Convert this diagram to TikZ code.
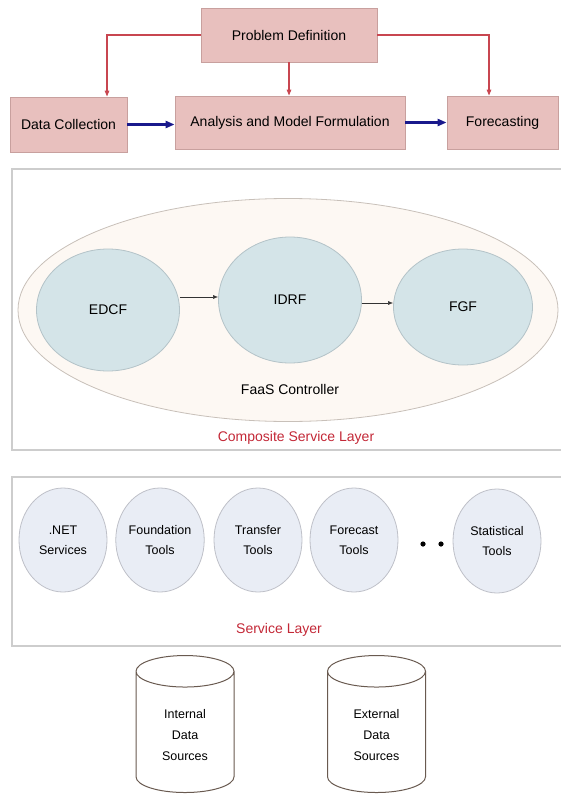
\documentclass[tikz,border=0pt]{standalone}
\usepackage{fontspec}
\setmainfont{Liberation Sans}
\usetikzlibrary{positioning,arrows.meta,shapes.geometric}
\definecolor{boxpink}{RGB}{232,192,190}
\definecolor{boxedge}{RGB}{200,160,158}
\definecolor{linkred}{RGB}{200,70,80}
\definecolor{linkblue}{RGB}{25,25,140}
\definecolor{panelgray}{RGB}{205,205,205}
\definecolor{ovalfill}{RGB}{253,248,243}
\definecolor{ovaledge}{RGB}{200,192,185}
\definecolor{funcfill}{RGB}{212,228,232}
\definecolor{funcedge}{RGB}{180,195,200}
\definecolor{svcfill}{RGB}{233,237,245}
\definecolor{svcedge}{RGB}{190,192,200}
\definecolor{layerred}{RGB}{195,40,55}
\definecolor{dbedge}{RGB}{105,90,80}

\begin{document}
\begin{tikzpicture}[x=1pt,y=-1pt,
  procbox/.style={draw=boxedge,fill=boxpink,line width=0.8pt,inner sep=0pt,align=center,font=\fontsize{14}{16}\selectfont},
  redar/.style={-{Triangle[length=6pt,width=4.5pt]},draw=linkred,line width=1.2pt},
  bluear/.style={-{Triangle[length=9pt,width=7pt]},draw=linkblue,line width=2.6pt},
  panel/.style={draw=panelgray,line width=1.2pt},
  oval/.style={ellipse,draw=ovaledge,fill=ovalfill,line width=0.8pt,inner sep=0pt},
  func/.style={ellipse,draw=funcedge,fill=funcfill,line width=0.8pt,inner sep=0pt,font=\fontsize{14}{16}\selectfont},
  fnar/.style={-{Latex[length=5pt,width=4pt]},line width=0.6pt,draw=black!80},
  svc/.style={ellipse,draw=svcedge,fill=svcfill,line width=0.8pt,inner sep=0pt,minimum width=88pt,minimum height=104pt,align=center,font=\fontsize{12.5}{20}\selectfont},
  layer/.style={text=layerred,font=\fontsize{14}{16}\selectfont},
  db/.style={cylinder,shape border rotate=90,aspect=0.6,draw=dbedge,line width=1pt,fill=white,minimum width=98pt,minimum height=137pt,align=center,font=\fontsize{12.5}{21}\selectfont}]
\useasboundingbox (0,0) rectangle (561,797);

% process chain
\node[procbox,minimum width=176pt,minimum height=54pt] (PD) at (289,35) {Problem Definition};
\node[procbox,minimum width=117pt,minimum height=55pt] (DC) at (68.5,124.5) {Data Collection};
\node[procbox,minimum width=230pt,minimum height=53pt] (AMF) at (290,122.5) {Analysis and Model Formulation};
\node[procbox,minimum width=111pt,minimum height=53pt] (FC) at (502.5,122.5) {Forecasting};
\draw[redar] (PD.west) -| ([xshift=38.5pt]DC.north);
\draw[redar] (PD.south) -- (PD.south |- AMF.north);
\draw[redar] (PD.east) -| ([xshift=-13.5pt]FC.north);
\draw[bluear] (DC.east) -- (AMF.west |- DC.east);
\draw[bluear] (AMF.east) -- (FC.west);

% composite service layer
\draw[panel] (12,169) rectangle (575,450);
\node[oval,minimum width=540pt,minimum height=223pt] (faas) at (288,310) {};
\node[func,minimum width=143pt,minimum height=122pt] (EDCF) at (108,310) {EDCF};
\node[func,minimum width=143pt,minimum height=126pt] (IDRF) at (290,300) {IDRF};
\node[func,minimum width=139pt,minimum height=116pt] (FGF) at (463,307) {FGF};
\draw[fnar] (EDCF.east |- 0,297) -- (IDRF.west |- 0,297);
\draw[fnar] (IDRF.east |- 0,303) -- (FGF.west |- 0,303);
\node[font=\fontsize{14}{16}\selectfont] (faaslbl) at (290,389) {FaaS Controller};
\node[layer] (cslbl) at (296,438) {Composite Service Layer};

% service layer
\draw[panel] (12,477) rectangle (575,646);
\node[svc] (net) at (63,540) {.NET\\Services};
\node[svc] (found) at (160,540) {Foundation\\Tools};
\node[svc] (trans) at (258,540) {Transfer\\Tools};
\node[svc] (fcast) at (354,540) {Forecast\\Tools};
\node[svc] (stat) at (497,541) {Statistical\\Tools};
\fill (423,544) circle (2.6pt) (441,544) circle (2.6pt);
\node[layer] (slbl) at (279,630) {Service Layer};

% data sources
\node[db] (intds) at (185,735) {Internal\\Data\\Sources};
\node[db] (extds) at (376.5,735) {External\\Data\\Sources};
\end{tikzpicture}
\end{document}
